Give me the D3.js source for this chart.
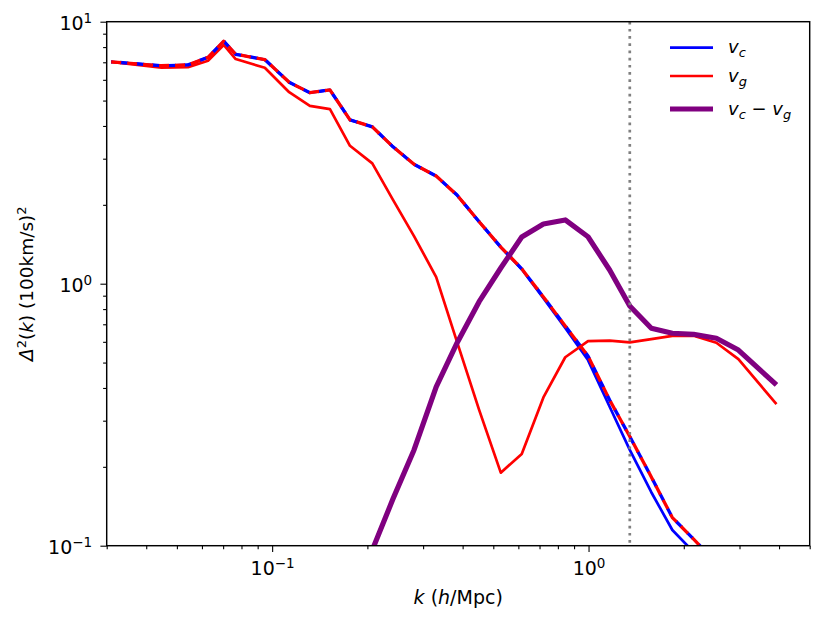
<!DOCTYPE html>
<html>
<head>
<meta charset="utf-8">
<script src="https://cdn.jsdelivr.net/npm/d3@7.9.0/dist/d3.min.js"></script>
<style>
  body { margin: 0; background: #fff; }
  svg text { font-family: 'DejaVu Sans', sans-serif; fill: #000; }
</style>
</head>
<body>
<div id="chart"></div>
<script>
// wavenumbers (h/Mpc), shared by every curve
const k = [0.0310, 0.0447, 0.0542, 0.0627, 0.0703, 0.0767, 0.0948, 0.1132, 0.1316, 0.1523,
  0.1762, 0.2073, 0.241, 0.2808, 0.330, 0.384, 0.451, 0.528, 0.615, 0.720,
  0.844, 0.996, 1.166, 1.350, 1.579, 1.840, 2.148, 2.535, 2.976, 3.926];

// v_c, solid blue
const vc = [7.03, 6.79, 6.84, 7.31, 8.43, 7.51, 7.17, 5.87, 5.36, 5.49,
  4.22, 3.97, 3.33, 2.855, 2.576, 2.18, 1.724, 1.377, 1.135, 0.880,
  0.678, 0.511, 0.339, 0.232, 0.160, 0.1148, 0.0946, null, null, null];

// v_g, solid red
const vg = [7.03, 6.68, 6.70, 7.10, 8.15, 7.20, 6.67, 5.38, 4.77, 4.64,
  3.36, 2.88, 2.09, 1.52, 1.06, 0.60, 0.33, 0.19, 0.224, 0.368,
  0.524, 0.604, 0.606, 0.597, 0.614, 0.632, 0.633, 0.595, 0.515, 0.347];

// dashed pair (blue under red)
const vDashed = [7.03, 6.79, 6.84, 7.31, 8.43, 7.51, 7.17, 5.87, 5.36, 5.49,
  4.22, 3.97, 3.33, 2.855, 2.576, 2.18, 1.724, 1.38, 1.14, 0.89,
  0.69, 0.53, 0.36, 0.261, 0.183, 0.128, 0.106, 0.086, null, null];

// v_c - v_g, thick purple
const vDiff = [null, null, null, null, null, null, null, null, null, null,
  null, 0.0963, 0.151, 0.232, 0.404, 0.594, 0.854, 1.148, 1.507, 1.690,
  1.751, 1.511, 1.128, 0.822, 0.676, 0.647, 0.641, 0.619, 0.558, 0.411];

const kMark = 1.35;

const xMajor = [0.1, 1];
const xMinor = [0.03, 0.04, 0.05, 0.06, 0.07, 0.08, 0.09, 0.2, 0.3, 0.4, 0.5, 0.6, 0.7, 0.8, 0.9, 2, 3, 4, 5];
const yMajor = [0.1, 1, 10];
const yMinor = [0.2, 0.3, 0.4, 0.5, 0.6, 0.7, 0.8, 0.9, 2, 3, 4, 5, 6, 7, 8, 9];
const expOf = { 0.1: '\u22121', 1: '0', 10: '1' };

const width = 831, height = 625;
const area = { left: 106.7, right: 809.7, top: 21.7, bottom: 545.7 };

const svg = d3.select('#chart').append('svg')
  .attr('width', width).attr('height', height);

const x = d3.scaleLog().domain([0.03, 5]).range([area.left, area.right]);
const y = d3.scaleLog().domain([0.1, 10]).range([area.bottom, area.top]);

svg.append('clipPath').attr('id', 'clip')
  .append('rect')
  .attr('x', area.left).attr('y', area.top)
  .attr('width', area.right - area.left).attr('height', area.bottom - area.top);

const plot = svg.append('g').attr('clip-path', 'url(#clip)');

const series = (vals) => k.map((kk, i) => ({ k: kk, v: vals[i] }));
const line = d3.line()
  .defined(d => d.v != null)
  .x(d => x(d.k))
  .y(d => y(d.v));

function drawLine(vals, color, w, dash, offset) {
  const p = plot.append('path')
    .datum(series(vals))
    .attr('d', line)
    .attr('fill', 'none')
    .attr('stroke', color)
    .attr('stroke-width', w)
    .attr('stroke-linejoin', 'round');
  if (dash) p.attr('stroke-dasharray', dash).attr('stroke-dashoffset', offset || 0);
  return p;
}

drawLine(vc, '#0000ff', 2.7);
drawLine(vg, '#ff0000', 2.7);
drawLine(vDashed, '#0000ff', 3.3, '8,8', -9);
drawLine(vDashed, '#ff0000', 3.3, '10,6', 0);
drawLine(vDiff, '#800080', 5.2);

// dotted marker line
svg.append('line')
  .attr('x1', x(kMark)).attr('x2', x(kMark))
  .attr('y1', area.top).attr('y2', area.bottom)
  .attr('stroke', '#808080')
  .attr('stroke-width', 2.7)
  .attr('stroke-dasharray', '2.7,4.5');

// axes
function tidy(g) {
  g.select('.domain').remove();
  g.selectAll('line').attr('stroke', '#000').attr('stroke-width', 1.1);
}

svg.append('g')
  .attr('transform', `translate(0,${area.bottom})`)
  .call(d3.axisBottom(x).tickValues(xMinor).tickSize(3.6).tickFormat(''))
  .call(tidy);

const xAx = svg.append('g')
  .attr('transform', `translate(0,${area.bottom})`)
  .call(d3.axisBottom(x).tickValues(xMajor).tickSize(6.3).tickFormat(''))
  .call(tidy);

svg.append('g')
  .attr('transform', `translate(${area.left},0)`)
  .call(d3.axisLeft(y).tickValues(yMinor).tickSize(3.6).tickFormat(''))
  .call(tidy);

const yAx = svg.append('g')
  .attr('transform', `translate(${area.left},0)`)
  .call(d3.axisLeft(y).tickValues(yMajor).tickSize(6.3).tickFormat(''))
  .call(tidy);

// power-of-ten labels
function powLabel(sel, v) {
  sel.selectAll('*').remove();
  sel.text(null).attr('font-size', 19);
  sel.append('tspan').text('10');
  sel.append('tspan').attr('font-size', 13.5).attr('dy', -7).text(expOf[v]);
}

xAx.selectAll('.tick').each(function (d) {
  const t = d3.select(this).select('text')
    .attr('y', 0).attr('dy', null)
    .attr('transform', 'translate(0,29.3)')
    .attr('text-anchor', 'middle');
  powLabel(t, d);
});

yAx.selectAll('.tick').each(function (d) {
  const t = d3.select(this).select('text')
    .attr('x', -14.5).attr('dy', null)
    .attr('transform', 'translate(0,7.7)')
    .attr('text-anchor', 'end');
  powLabel(t, d);
});

// frame
svg.append('rect')
  .attr('x', area.left).attr('y', area.top)
  .attr('width', area.right - area.left).attr('height', area.bottom - area.top)
  .attr('fill', 'none').attr('stroke', '#000').attr('stroke-width', 1.45);

// axis labels
const xl = svg.append('text')
  .attr('x', (area.left + area.right) / 2).attr('y', 604)
  .attr('text-anchor', 'middle').attr('font-size', 19);
xl.append('tspan').attr('font-style', 'italic').text('k');
xl.append('tspan').text(' (');
xl.append('tspan').attr('font-style', 'italic').text('h');
xl.append('tspan').text('/Mpc)');

const yl = svg.append('text')
  .attr('transform', `translate(33,${(area.top + area.bottom) / 2}) rotate(-90)`)
  .attr('text-anchor', 'middle').attr('font-size', 18.5);
yl.append('tspan').attr('font-style', 'italic').text('\u0394');
yl.append('tspan').attr('font-size', 13).attr('dy', -7.5).text('2');
yl.append('tspan').attr('dy', 7.5).text('(');
yl.append('tspan').attr('font-style', 'italic').text('k');
yl.append('tspan').text(') (100km/s)');
yl.append('tspan').attr('font-size', 13).attr('dy', -7.5).text('2');

// legend
const legendItems = [
  { name: ['v', 'c'], color: '#0000ff', w: 2.7 },
  { name: ['v', 'g'], color: '#ff0000', w: 2.7 },
  { name: ['v', 'c', 'v', 'g'], color: '#800080', w: 5.2 }
];
const legendRows = [47.7, 76, 109];

const legend = svg.append('g');
legendItems.forEach((it, i) => {
  const ly = legendRows[i];
  legend.append('line')
    .attr('x1', 670).attr('x2', 713)
    .attr('y1', ly).attr('y2', ly)
    .attr('stroke', it.color).attr('stroke-width', it.w);
  const t = legend.append('text')
    .attr('x', 728).attr('y', ly + 5.5)
    .attr('font-size', 18);
  t.append('tspan').attr('font-style', 'italic').text(it.name[0]);
  t.append('tspan').attr('font-style', 'italic').attr('font-size', 13).attr('dy', 4).text(it.name[1]);
  if (it.name.length > 2) {
    t.append('tspan').attr('dy', -4).text(' \u2212 ');
    t.append('tspan').attr('font-style', 'italic').text(it.name[2]);
    t.append('tspan').attr('font-style', 'italic').attr('font-size', 13).attr('dy', 4).text(it.name[3]);
  }
});
</script>
</body>
</html>
